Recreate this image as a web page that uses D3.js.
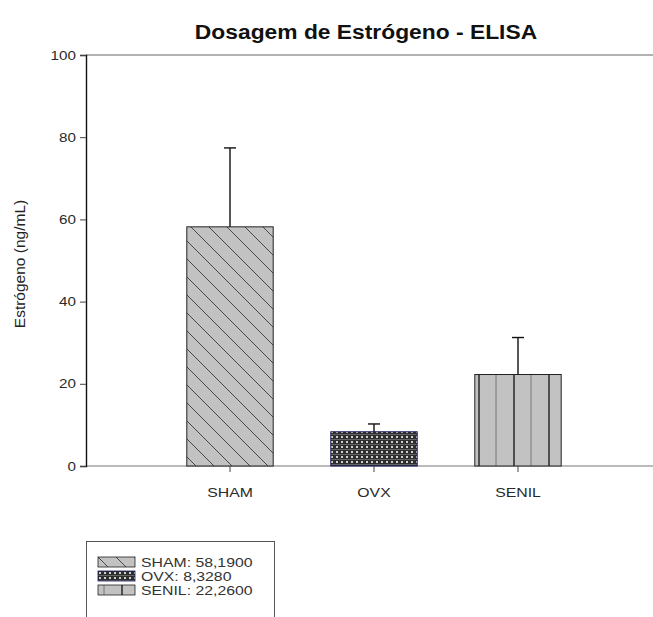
<!DOCTYPE html>
<html>
<head>
<meta charset="utf-8">
<script src="https://cdn.jsdelivr.net/npm/d3@7"></script>
<style>
  body { margin: 0; background: #fff; }
  text { font-family: "Liberation Sans", Arial, sans-serif; }
</style>
</head>
<body>
<div id="chart"></div>
<script>
var groups = ['SHAM', 'OVX', 'SENIL'];
var means = [58.19, 8.328, 22.26];
var errors = [19.2, 1.9, 9.0];
var legendLabels = ['SHAM: 58,1900', 'OVX: 8,3280', 'SENIL: 22,2600'];
var yTicks = [0, 20, 40, 60, 80, 100];

var width = 653;
var height = 617;
var squash = 1.17; // the source picture is a bit wider than tall

var svg = d3.select('#chart')
  .append('svg')
    .attr('width', width)
    .attr('height', height);

// widen text a little to match the stretched original
function widen(sel) {
  sel.each(function() {
    var w = this.getComputedTextLength();
    d3.select(this)
      .attr('textLength', w * squash)
      .attr('lengthAdjust', 'spacingAndGlyphs');
  });
}

var defs = svg.append('defs');

// diagonal hatch for SHAM
var p1 = defs.append('pattern')
    .attr('id', 'pat-sham')
    .attr('patternUnits', 'userSpaceOnUse')
    .attr('width', 18).attr('height', 18);
p1.append('rect').attr('width', 18).attr('height', 18).attr('fill', '#c2c2c2');
p1.append('path')
    .attr('d', 'M-2,-2 L20,20 M-2,16 L2,20 M16,-2 L20,2')
    .attr('stroke', '#3a3a3a').attr('stroke-width', 0.9);

// dense dotted pattern for OVX
var p2 = defs.append('pattern')
    .attr('id', 'pat-ovx')
    .attr('patternUnits', 'userSpaceOnUse')
    .attr('width', 5).attr('height', 5);
p2.append('rect').attr('width', 5).attr('height', 5).attr('fill', '#2e2e2e');
p2.append('rect').attr('x', 1).attr('y', 1).attr('width', 2).attr('height', 2).attr('fill', '#d0d0d0');
p2.append('rect').attr('x', 0).attr('y', 4).attr('width', 5).attr('height', 0.6).attr('fill', '#8a8a8a');

// vertical lines for SENIL
var p3 = defs.append('pattern')
    .attr('id', 'pat-senil')
    .attr('patternUnits', 'userSpaceOnUse')
    .attr('width', 35).attr('height', 10);
p3.append('rect').attr('width', 35).attr('height', 10).attr('fill', '#c2c2c2');
p3.append('line').attr('x1', 6).attr('x2', 6).attr('y1', 0).attr('y2', 10)
    .attr('stroke', '#777').attr('stroke-width', 1);
p3.append('line').attr('x1', 24).attr('x2', 24).attr('y1', 0).attr('y2', 10)
    .attr('stroke', '#111').attr('stroke-width', 1.3);

var fills = ['url(#pat-sham)', 'url(#pat-ovx)', 'url(#pat-senil)'];
var edges = ['#222', '#1c1c60', '#222'];

var y = d3.scaleLinear()
  .domain([0, 100])
  .range([466, 55]);

var x = d3.scaleBand()
  .domain(groups)
  .range([158, 590])
  .paddingInner(0.4)
  .paddingOuter(0.2);

// title
svg.append('text')
    .attr('x', 366)
    .attr('y', 39)
    .attr('text-anchor', 'middle')
    .attr('font-size', 19.5)
    .attr('font-weight', 'bold')
    .attr('fill', '#111')
    .text('Dosagem de Estrógeno - ELISA')
    .call(widen);

// frame lines (top and bottom)
svg.append('line')
    .attr('x1', 86).attr('x2', width)
    .attr('y1', y(100)).attr('y2', y(100))
    .attr('stroke', '#999').attr('stroke-width', 1.5);
svg.append('line')
    .attr('x1', 86).attr('x2', width)
    .attr('y1', y(0)).attr('y2', y(0))
    .attr('stroke', '#777').attr('stroke-width', 1.2);

// bars
var bars = svg.append('g');
bars.selectAll('rect')
  .data(means).enter()
  .append('rect')
    .attr('x', function(d, i) { return x(groups[i]); })
    .attr('y', function(d) { return y(d); })
    .attr('width', x.bandwidth())
    .attr('height', function(d) { return y(0) - y(d); })
    .attr('fill', function(d, i) { return fills[i]; })
    .attr('stroke', function(d, i) { return edges[i]; })
    .attr('stroke-width', 1);

// error bars
var err = svg.append('g')
    .attr('stroke', '#111')
    .attr('stroke-width', 1.4);
means.forEach(function(m, i) {
  var cx = x(groups[i]) + x.bandwidth() / 2;
  err.append('line')
      .attr('x1', cx).attr('x2', cx)
      .attr('y1', y(m)).attr('y2', y(m + errors[i]));
  err.append('line')
      .attr('x1', cx - 6).attr('x2', cx + 6)
      .attr('y1', y(m + errors[i])).attr('y2', y(m + errors[i]));
});

// y axis
var yAxis = svg.append('g')
    .attr('transform', 'translate(86,0)')
    .call(d3.axisLeft(y).tickValues(yTicks).tickSize(6).tickPadding(4));
yAxis.select('.domain').attr('stroke', '#111').attr('stroke-width', 1.4);
yAxis.selectAll('.tick line').attr('stroke', '#444');
yAxis.selectAll('.tick text')
    .attr('font-size', 13)
    .attr('fill', '#2a2a2a')
    .attr('font-family', '"Liberation Sans", Arial, sans-serif')
    .call(widen);

svg.append('text')
    .attr('transform', 'translate(25,264) rotate(-90)')
    .attr('text-anchor', 'middle')
    .attr('font-size', 15.5)
    .attr('fill', '#222')
    .text('Estrógeno (ng/mL)');

// x axis ticks and labels
var xAxis = svg.append('g')
    .attr('transform', 'translate(0,' + y(0) + ')')
    .call(d3.axisBottom(x).tickSize(6).tickPadding(15));
xAxis.select('.domain').remove();
xAxis.selectAll('.tick line').attr('stroke', '#444');
xAxis.selectAll('.tick text')
    .attr('font-size', 13.5)
    .attr('fill', '#2a2a2a')
    .attr('font-family', '"Liberation Sans", Arial, sans-serif')
    .call(widen);

// legend
var legend = svg.append('g');
legend.append('rect')
    .attr('x', 86.5).attr('y', 541.5)
    .attr('width', 188).attr('height', 90)
    .attr('fill', '#fff')
    .attr('stroke', '#555');

var rows = legend.selectAll('g.row')
  .data(legendLabels).enter()
  .append('g')
    .attr('class', 'row')
    .attr('transform', function(d, i) { return 'translate(98,' + (557 + i * 14) + ')'; });

rows.append('rect')
    .attr('width', 37).attr('height', 10)
    .attr('fill', function(d, i) { return fills[i]; })
    .attr('stroke', function(d, i) { return edges[i]; })
    .attr('stroke-width', 0.8);

rows.append('text')
    .attr('x', 43)
    .attr('y', 10)
    .attr('font-size', 13.5)
    .attr('fill', '#333')
    .text(function(d) { return d; })
    .call(widen);
</script>
</body>
</html>
